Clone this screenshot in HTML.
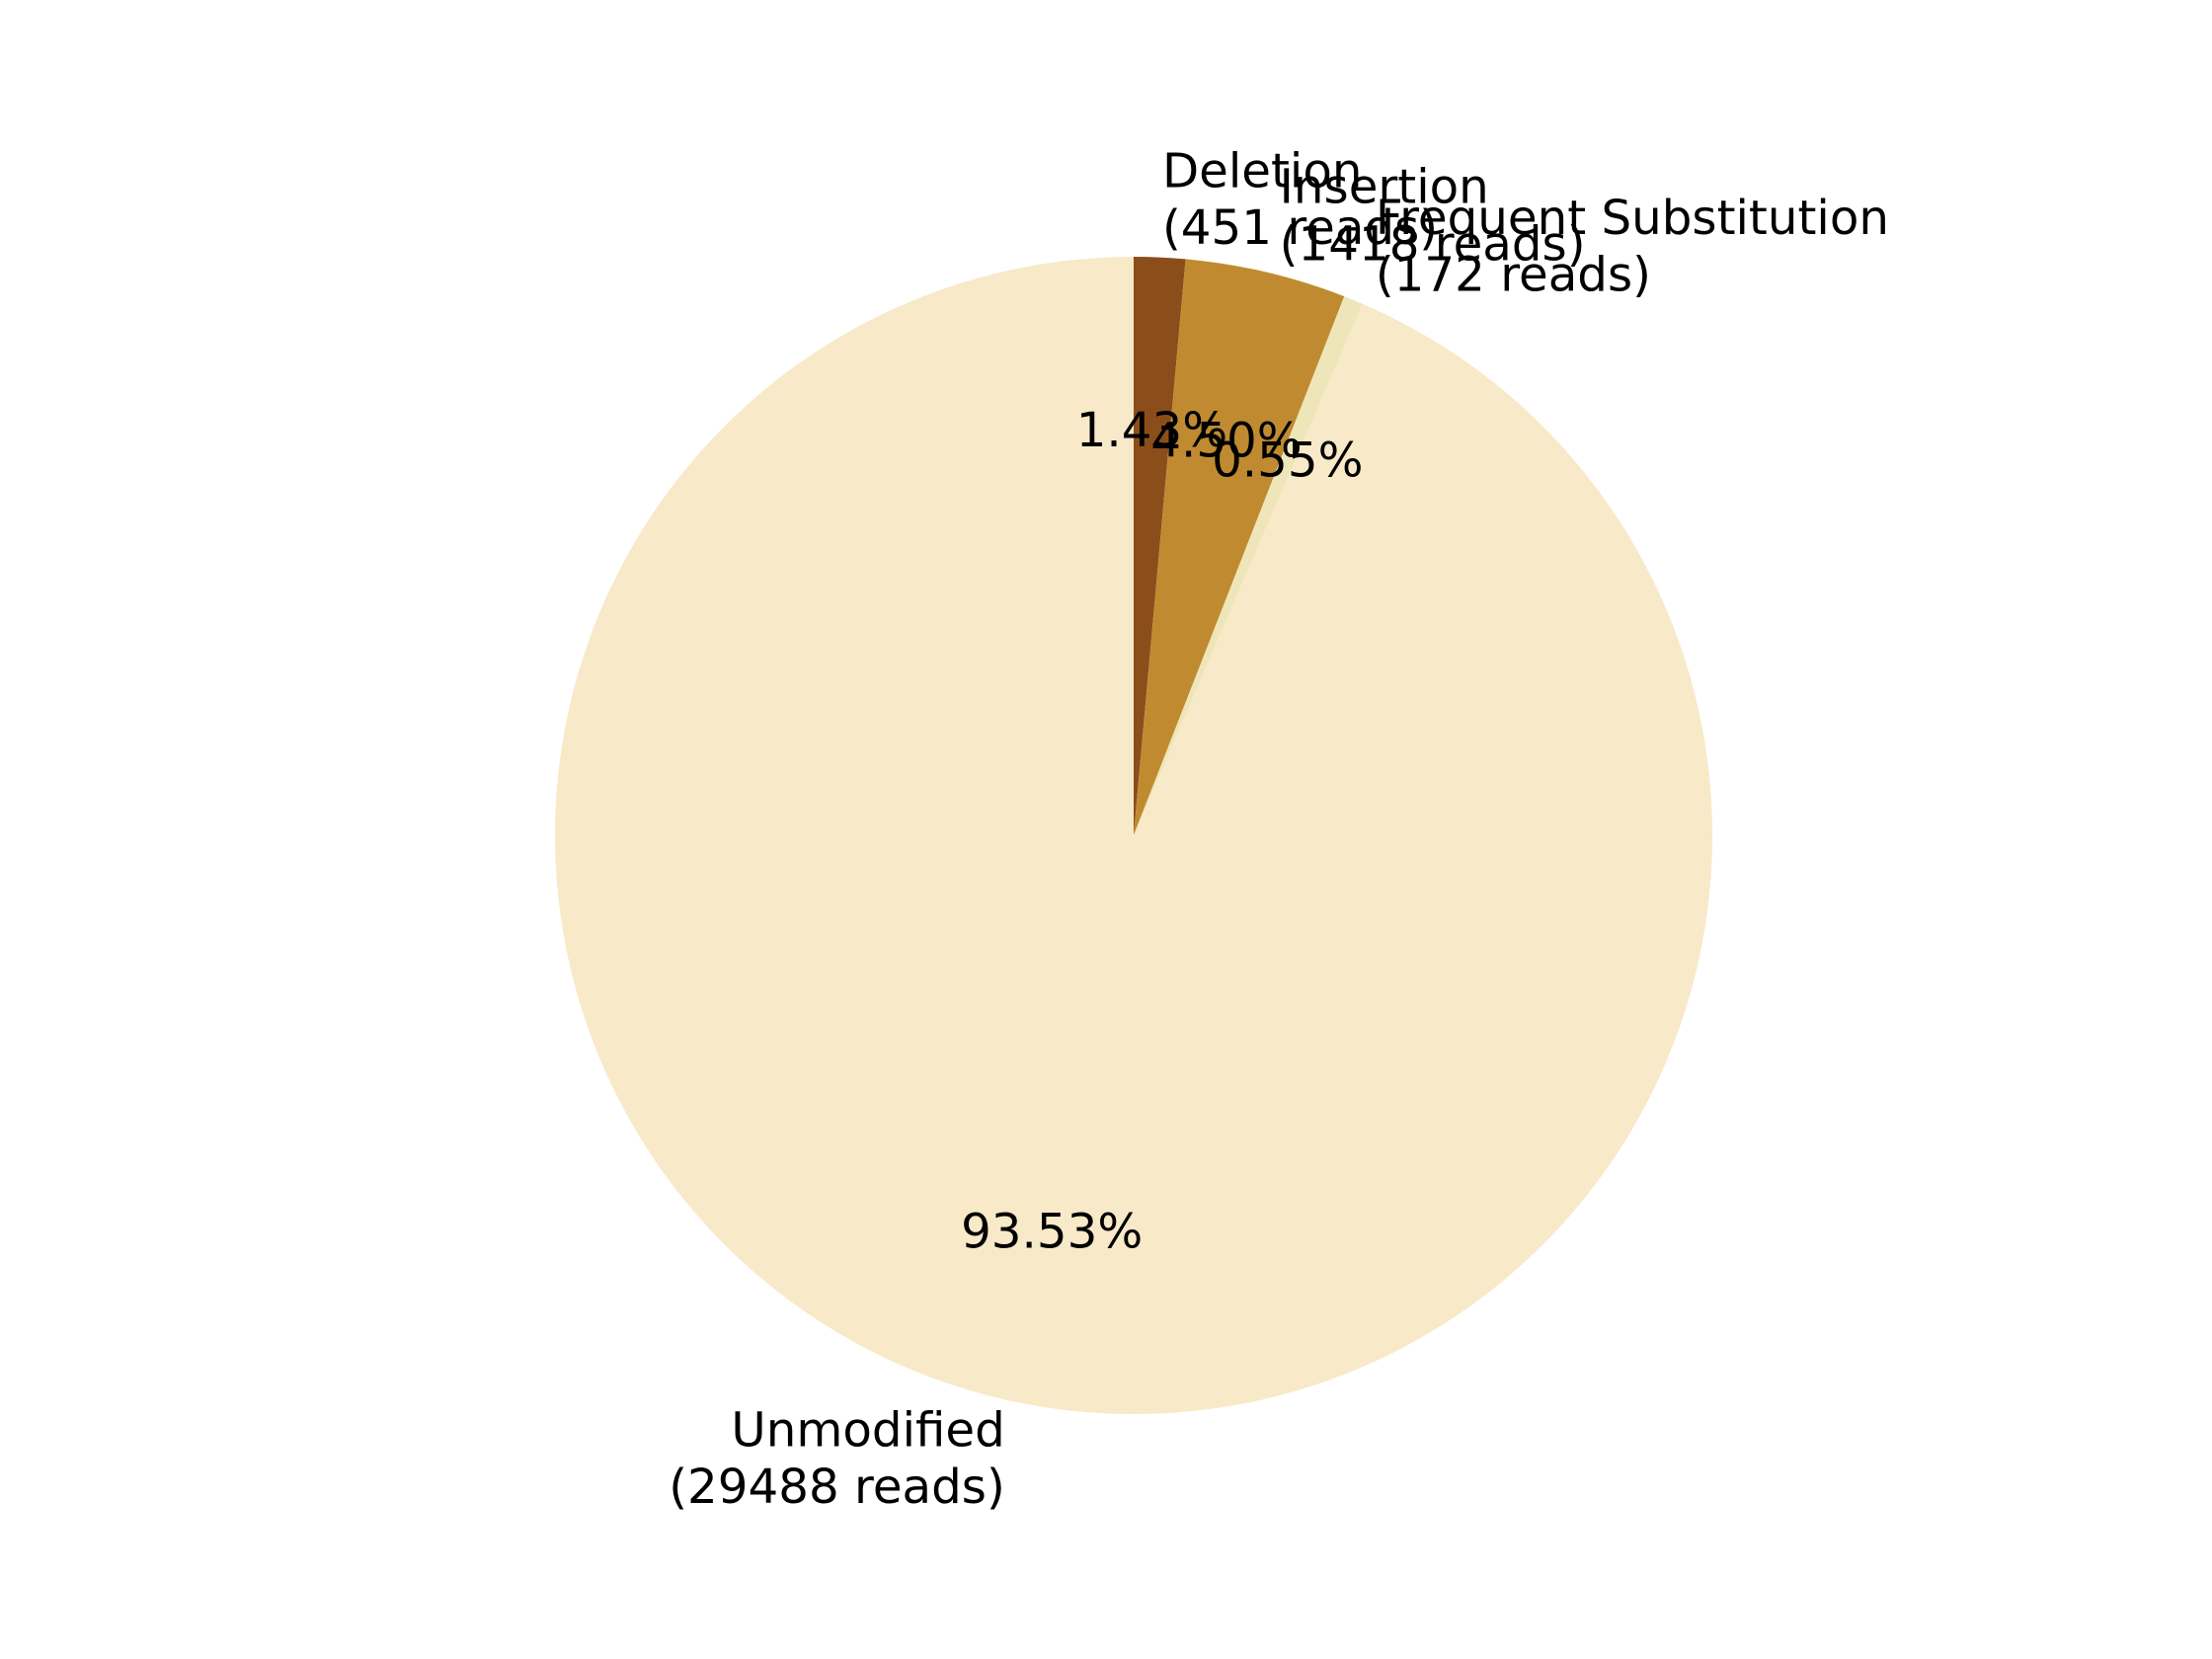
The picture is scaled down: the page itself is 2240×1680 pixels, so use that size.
<!DOCTYPE html>
<html><head><meta charset="utf-8"><style>
html,body{margin:0;padding:0;background:#fff;}
svg{display:block;}
text{font-family:"DejaVu Sans","Liberation Sans",sans-serif;font-size:48.3px;fill:#000;}
</style></head>
<body>
<svg id="chart" width="2240" height="1680" viewBox="0 0 2240 1680" xmlns="http://www.w3.org/2000/svg">
<g id="slices"></g>
<g id="labels"></g>
</svg>
<script>
const categories = ["Deletion", "Insertion", "Frequent Substitution", "Unmodified"];
const readCounts = [451, 1418, 172, 29488];
const sliceColors = ["#8B4E1A", "#C08B30", "#EEE6B8", "#F8E9C8"];
const sliceNames = ["slice-deletion", "slice-insertion", "slice-frequent-substitution", "slice-unmodified"];

const cx = 1148, cy = 846, R = 586;
const NS = "http://www.w3.org/2000/svg";
const total = readCounts.reduce((a, b) => a + b, 0);
const gS = document.getElementById('slices');
const gL = document.getElementById('labels');

function pt(angleFromTop, r) {
  return [cx + r * Math.sin(angleFromTop), cy - r * Math.cos(angleFromTop)];
}
function addText(x, y, str, anchor, name) {
  const t = document.createElementNS(NS, 'text');
  t.setAttribute('x', x);
  t.setAttribute('y', y);
  t.setAttribute('text-anchor', anchor);
  t.setAttribute('dominant-baseline', 'central');
  t.textContent = str;
  
  
  gL.appendChild(t);
}

let acc = 0;
readCounts.forEach((v, i) => {
  const frac = v / total;
  const a0 = acc * 2 * Math.PI, a1 = (acc + frac) * 2 * Math.PI;
  const [x0, y0] = pt(a0, R), [x1, y1] = pt(a1, R);
  const large = frac > 0.5 ? 1 : 0;
  const p = document.createElementNS(NS, 'path');
  p.setAttribute('d', `M${cx},${cy} L${x0},${y0} A${R},${R} 0 ${large} 1 ${x1},${y1} Z`);
  p.setAttribute('fill', sliceColors[i]);
  
  
  gS.appendChild(p);

  const mid = (a0 + a1) / 2;
  const [lx, ly] = pt(mid, R * 1.1);
  const anchor = Math.sin(mid) >= 0 ? 'start' : 'end';
  addText(lx, ly - 28.8, categories[i], anchor, 'category-label');
  addText(lx, ly + 28.8, '(' + v + ' reads)', anchor, 'reads-label');

  const [px, py] = pt(mid, R * 0.7);
  addText(px, py, (frac * 100).toFixed(2) + '%', 'middle', 'percent-label');
  acc += frac;
});
</script>
</body></html>
